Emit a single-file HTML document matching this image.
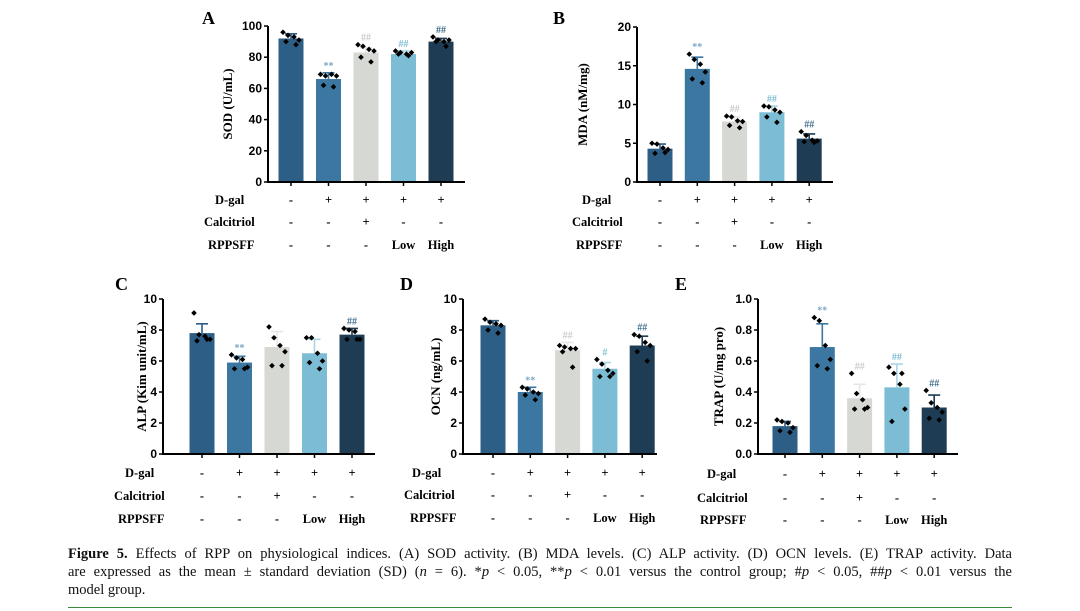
<!DOCTYPE html>
<html><head><meta charset="utf-8">
<style>
body{margin:0;background:#fff;width:1080px;height:611px;overflow:hidden;position:relative;font-family:"Liberation Sans",sans-serif}
#cap{position:absolute;left:68px;top:545px;width:944px;font-family:"Liberation Serif",serif;font-size:14.5px;line-height:18px;color:#111}
#cap .j{text-align:justify;text-align-last:justify;white-space:nowrap}
#rule{position:absolute;left:68px;top:607px;width:944px;height:1px;background:#3a8a3a}
</style></head><body>
<svg id="fig" width="1080" height="530" style="position:absolute;left:0;top:0"></svg>
<div id="cap"><div class="j"><b>Figure 5.</b> Effects of RPP on physiological indices. (A) SOD activity. (B) MDA levels. (C) ALP activity. (D) OCN levels. (E) TRAP activity. Data</div><div class="j">are expressed as the mean ± standard deviation (SD) (<i>n</i> = 6). *<i>p</i> &lt; 0.05, **<i>p</i> &lt; 0.01 versus the control group; #<i>p</i> &lt; 0.05, ##<i>p</i> &lt; 0.01 versus the</div><div>model group.</div></div>
<div id="rule"></div>
<script>
const groups=["Control","Model","Calcitriol","Low","High"];
const dgalRow=["-","+","+","+","+"];
const calRow=["-","-","+","-","-"];
const rppRow=["-","-","-","Low","High"];
const sodMeans=[92,66,83,82,90];
const sodSD=[3,4,3,2,2];
const sodPts=[[96,94,93,91,90,88],[69,68,69,68,62,61],[88,87,85,84,80,77],[84,83,82,83,82,81],[93,91,90,91,90,87]];
const sodSig=["","**","##","##","##"];
const sodTicks=[0,20,40,60,80,100];
const mdaMeans=[4.3,14.6,7.8,9.0,5.6];
const mdaSD=[0.6,1.5,0.6,0.8,0.6];
const mdaPts=[[5.0,4.9,4.4,4.2,3.7,3.8],[16.5,15.8,15.2,14.2,13.3,12.8],[8.5,8.4,7.9,7.8,7.3,7.0],[9.8,9.7,9.3,9.0,8.4,7.7],[6.5,6.0,5.4,5.3,5.2,5.1]];
const mdaSig=["","**","##","##","##"];
const mdaTicks=[0,5,10,15,20];
const alpMeans=[7.8,5.9,6.9,6.5,7.7];
const alpSD=[0.6,0.4,1.0,0.9,0.4];
const alpPts=[[9.1,7.7,7.6,7.4,7.3,7.4],[6.4,6.2,6.1,5.6,5.5,5.5],[8.2,7.5,7.0,6.6,5.7,5.7],[7.5,7.5,6.5,6.0,5.9,5.5],[8.1,8.0,7.9,7.4,7.4,7.4]];
const alpSig=["","**","","","##"];
const alpTicks=[0,2,4,6,8,10];
const ocnMeans=[8.3,4.0,6.7,5.5,7.0];
const ocnSD=[0.3,0.3,0.5,0.4,0.6];
const ocnPts=[[8.7,8.5,8.4,8.3,8.0,7.8],[4.3,4.2,4.0,3.9,3.8,3.5],[7.0,6.9,6.8,6.8,6.6,5.6],[6.1,5.8,5.4,5.2,5.0,5.0],[7.7,7.6,7.2,7.0,6.6,6.0]];
const ocnSig=["","**","##","#","##"];
const ocnTicks=[0,2,4,6,8,10];
const trapMeans=[0.18,0.69,0.36,0.43,0.30];
const trapSD=[0.03,0.15,0.09,0.15,0.08];
const trapPts=[[0.22,0.21,0.20,0.17,0.15,0.14],[0.88,0.86,0.70,0.61,0.57,0.55],[0.52,0.39,0.35,0.30,0.29,0.29],[0.56,0.52,0.45,0.29,0.21,0.52],[0.41,0.33,0.30,0.27,0.23,0.22]];
const trapSig=["","**","##","##","##"];
const trapTicks=["0.0","0.2","0.4","0.6","0.8","1.0"];

const colors=["#2d5e86","#3b77a1","#d6d8d4","#7cbdd5","#1e3d55"];
const sigColors=["#000","#7ba6c7","#c9cbc8","#7cbdd5","#3b6a8a"];
const NS="http://www.w3.org/2000/svg";
const svg=document.getElementById('fig');
function el(tag,attrs,parent){const e=document.createElementNS(NS,tag);for(const k in attrs)e.setAttribute(k,attrs[k]);(parent||svg).appendChild(e);return e;}
function txt(s,attrs,parent){const e=el('text',attrs,parent);e.textContent=s;return e;}

function panel(cfg){
  const g=el('g',{});
  
  
  const maxV=cfg.max;
  const y=v=>cfg.y0-(v/maxV)*(cfg.y0-cfg.yt);
  const xb=i=>cfg.x0+cfg.first+i*cfg.step;
  const bw=25;
  const L=txt(cfg.letter,{x:cfg.lx,y:cfg.ly,'font-family':'Liberation Serif,serif','font-weight':'bold','font-size':18},g);
  
  for(let i=0;i<5;i++){
    const m=cfg.means[i],sd=cfg.sd[i],cx=xb(i);
    const b=el('rect',{x:cx-bw/2,y:y(m),width:bw,height:cfg.y0-y(m),fill:colors[i]},g);
    
    const ec=i==2?'#e6e6e6':(i==3?'#a9d5e5':colors[i]);
    const e=el('path',{d:`M${cx} ${y(m)}V${y(m+sd)}M${cx-6} ${y(m+sd)}H${cx+6}`,stroke:ec,'stroke-width':1.6,fill:'none'},g);
    
    const offs=[-8,-3,3,8,-5,5];
    cfg.pts[i].forEach((v,j)=>{const px=cx+offs[j],py=y(v);
      const d=el('path',{d:`M${px} ${py-2.8}L${px+2.8} ${py}L${px} ${py+2.8}L${px-2.8} ${py}Z`,fill:'#000'},g);
      });
    if(cfg.sig[i]){const top=Math.max(m+sd,Math.max(...cfg.pts[i]));
      const s=txt(cfg.sig[i],{x:cx,y:y(top)-4,'text-anchor':'middle','font-size':10,'font-weight':'bold',fill:sigColors[i],'font-family':'Liberation Serif,serif'},g);
      }
  }
  const ax=el('path',{d:`M${cfg.x0} ${cfg.yt}V${cfg.y0}H${cfg.xe}`,stroke:'#000','stroke-width':2,fill:'none'},g);
  
  cfg.ticks.forEach(t=>{const v=parseFloat(t),ty=y(v);
    el('line',{x1:cfg.x0-4,x2:cfg.x0,y1:ty,y2:ty,stroke:'#000','stroke-width':1.5},g);
    const tl=txt(t,{x:cfg.x0-6,y:ty+4,'text-anchor':'end','font-size':12,'font-weight':'bold'},g);
    });
  for(let i=0;i<5;i++)el('line',{x1:xb(i),x2:xb(i),y1:cfg.y0,y2:cfg.y0+4,stroke:'#000','stroke-width':1.5},g);
  const yl=txt(cfg.ylab,{x:0,y:0,transform:`translate(${cfg.ylx},${(cfg.y0+cfg.yt)/2}) rotate(-90)`,'text-anchor':'middle','font-size':13,'font-weight':'bold','font-family':'Liberation Serif,serif'},g);
  
  const rows=[["D-gal",dgalRow,cfg.r1x],["Calcitriol",calRow,cfg.r2x],["RPPSFF",rppRow,cfg.r3x]];
  rows.forEach((r,k)=>{const ry=cfg.ry[k];
    const rl=txt(r[0],{x:r[2],y:ry+4,'font-size':12.5,'font-weight':'bold','font-family':'Liberation Serif,serif'},g);
    
    r[1].forEach((s,i)=>{const c=txt(s,{x:xb(i),y:ry+4,'text-anchor':'middle','font-size':12.5,'font-weight':'bold','font-family':'Liberation Serif,serif'},g);
      });
  });
}
panel({letter:'A',lx:202,ly:24,x0:268,xe:465,y0:182,yt:26,first:23,step:37.5,max:100,means:sodMeans,sd:sodSD,pts:sodPts,sig:sodSig,ticks:sodTicks,ylab:'SOD (U/mL)',ylx:232,r1x:215,r2x:204,r3x:208,ry:[200,222,245]});
panel({letter:'B',lx:553,ly:24,x0:637,xe:833,y0:182,yt:27,first:23,step:37.3,max:20,means:mdaMeans,sd:mdaSD,pts:mdaPts,sig:mdaSig,ticks:mdaTicks,ylab:'MDA (nM/mg)',ylx:587,r1x:582,r2x:572,r3x:576,ry:[200,222,245]});
panel({letter:'C',lx:115,ly:290,x0:163,xe:375,y0:454,yt:299,first:39,step:37.5,max:10,means:alpMeans,sd:alpSD,pts:alpPts,sig:alpSig,ticks:alpTicks,ylab:'ALP (Kim unit/mL)',ylx:146,r1x:125,r2x:114,r3x:118,ry:[473,496,519]});
panel({letter:'D',lx:400,ly:290,x0:463,xe:657,y0:454,yt:299,first:30,step:37.3,max:10,means:ocnMeans,sd:ocnSD,pts:ocnPts,sig:ocnSig,ticks:ocnTicks,ylab:'OCN (ng/mL)',ylx:440,r1x:412,r2x:404,r3x:410,ry:[473,495,518]});
panel({letter:'E',lx:675,ly:290,x0:758,xe:958,y0:454,yt:299,first:27,step:37.3,max:1,means:trapMeans,sd:trapSD,pts:trapPts,sig:trapSig,ticks:trapTicks,ylab:'TRAP (U/mg pro)',ylx:723,r1x:707,r2x:697,r3x:700,ry:[474,498,520]});
</script>
</body></html>
